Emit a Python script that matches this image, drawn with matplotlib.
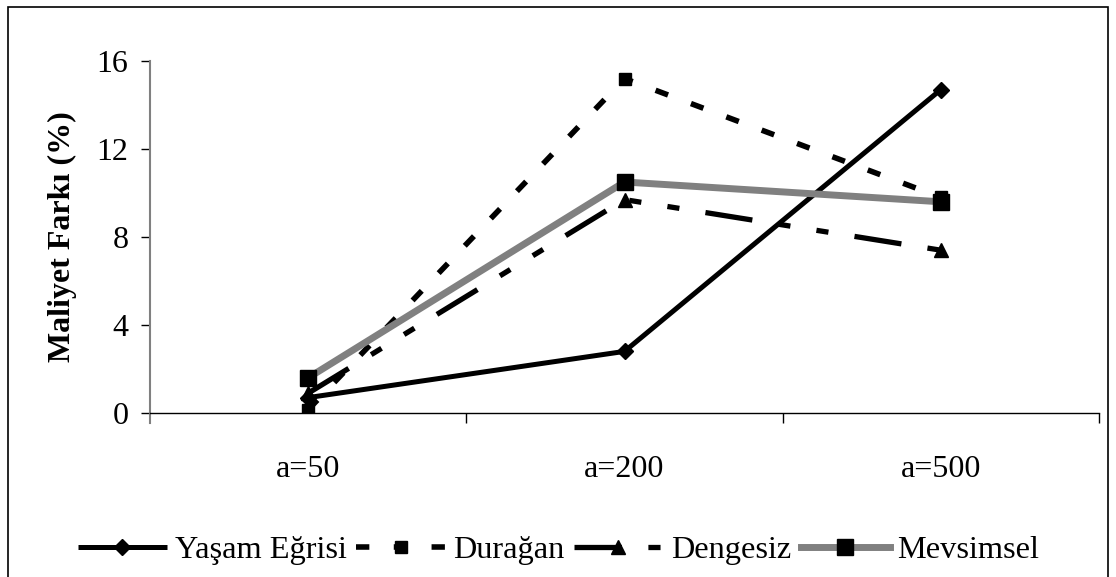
import matplotlib
matplotlib.use("Agg")
import matplotlib.pyplot as plt
from matplotlib.patches import Rectangle
from matplotlib.font_manager import FontProperties

plt.rcParams['font.family'] = ['Liberation Serif', 'DejaVu Serif']
plt.rcParams['font.serif'] = ['Liberation Serif', 'DejaVu Serif']

categories = ["a=50", "a=200", "a=500"]
yasam = [0.7, 2.8, 14.7]
duragan = [0.15, 15.2, 9.8]
dengesiz = [0.9, 9.7, 7.4]
mevsimsel = [1.6, 10.5, 9.6]
yticks = [0, 4, 8, 12, 16]

fig = plt.figure(figsize=(11.16, 5.77), dpi=100)
ax = fig.add_axes([150/1116, 1 - 413/577, (1099 - 150)/1116, (413 - 61)/577])

x = list(range(len(categories)))

ax.plot(x, yasam, color='black', lw=3.6, marker='D', ms=8,
        label='Yaşam Eğrisi', solid_capstyle='butt')
ax.plot(x, duragan, color='black', lw=4.0, marker='s', ms=9,
        dashes=(2.4, 4.4), label='Durağan', dash_capstyle='butt')
ax.plot(x, dengesiz, color='black', lw=3.8, marker='^', ms=10,
        dashes=(9.0, 5.0, 2.3, 5.0, 2.3, 5.0), label='Dengesiz',
        dash_capstyle='butt')
ax.plot(x, mevsimsel, color='#808080', lw=5.0, marker='s', ms=11.5,
        mfc='black', mec='black', label='Mevsimsel')

ax.set_xlim(-0.5, 2.5)
ax.set_ylim(0, 16)
ax.set_yticks(yticks)
ax.set_yticklabels([str(v) for v in yticks], fontsize=23)
ax.set_xticks(x)
ax.set_xticklabels(categories, fontsize=23)
ax.set_xticks([0.5, 1.5, 2.5], minor=True)
ax.tick_params(axis='x', which='major', length=0, pad=30)
ax.tick_params(axis='x', which='minor', length=7.5, width=1, direction='out')
ax.tick_params(axis='y', length=6.5, width=1, direction='out', pad=9)

ax.spines['top'].set_visible(False)
ax.spines['right'].set_visible(False)
ax.spines['left'].set_color('#808080')
ax.spines['left'].set_linewidth(1.5)
ax.spines['bottom'].set_linewidth(1)
ax.spines['left'].set_bounds(-0.45, 16)

ax.set_ylabel('Maliyet Farkı (%)', fontsize=23, fontweight='bold', labelpad=14,
              family='Liberation Serif')

leg_font = FontProperties(family='Liberation Serif', size=23.3)
fig.legend(loc='center', bbox_to_anchor=(0.5005, 1 - 550/577), ncol=4,
           frameon=False, prop=leg_font, handlelength=2.75,
           handletextpad=0.24, columnspacing=0.3)

fig.patches.append(Rectangle((8/1116, -0.02), 1100/1116, 1.02 - 7/577,
                             transform=fig.transFigure, fill=False,
                             edgecolor='black', lw=1.2))

fig.savefig('out.png', dpi=100)
